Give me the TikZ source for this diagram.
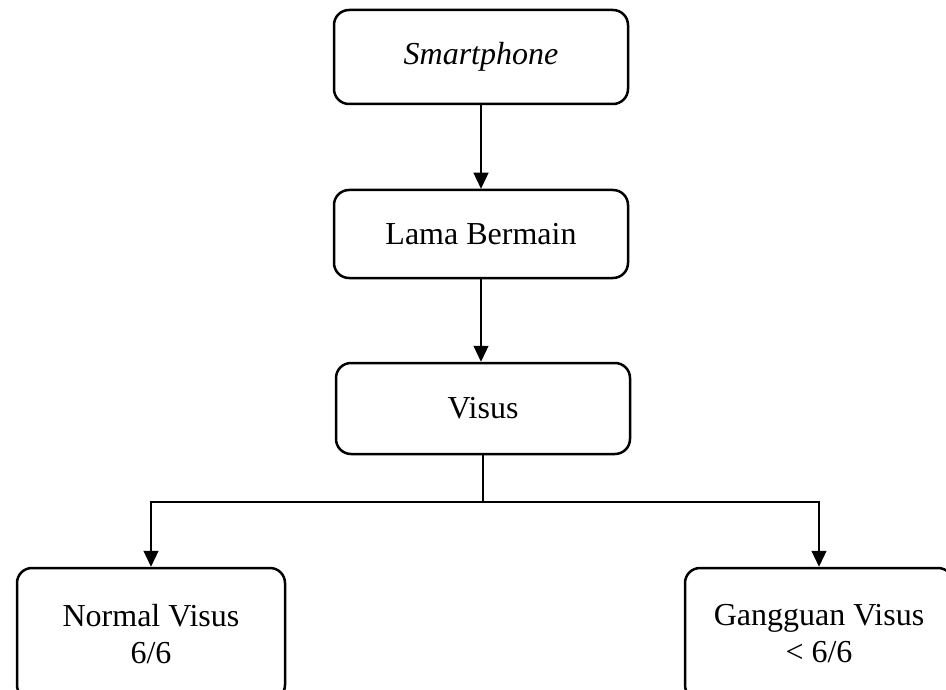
\documentclass[tikz,border=0pt]{standalone}
\usepackage{fontspec}
\setmainfont{Liberation Serif}
\usetikzlibrary{arrows.meta}
\begin{document}
\begin{tikzpicture}[x=1pt,y=-1pt,
  box/.style={draw=black,line width=2.5pt,rounded corners=15pt,fill=white,
    align=center,inner sep=0pt,font=\fontsize{32}{37}\selectfont},
  arr/.style={line width=1.2pt,-{Triangle[length=16pt,width=15pt]}},
  ln/.style={line width=1.2pt}]
\useasboundingbox (0,0) rectangle (946,690);
\clip (0,0) rectangle (946,690);
\fill[white] (0,0) rectangle (946,690);
\node[box,minimum width=294pt,minimum height=94pt] (sp) at (481,57) {\itshape Smartphone};
\node[box,minimum width=294pt,minimum height=88pt] (lb) at (481,234) {Lama Bermain};
\node[box,minimum width=294pt,minimum height=91pt] (vs) at (483,408.5) {Visus};
\node[box,minimum width=268pt,minimum height=132pt] (nv) at (151,634) {Normal Visus\\6/6};
\node[box,minimum width=268pt,minimum height=132pt] (gv) at (819,634) {Gangguan Visus\\\textless{} 6/6};
\coordinate (j) at (483,502);
\draw[arr] (sp.south) -- (lb.north);
\draw[arr] (lb.south) -- (lb.south |- vs.north);
\draw[ln] (vs.south) -- (j);
\draw[arr] (j) -| (nv.north);
\draw[arr] (j) -| (gv.north);
\end{tikzpicture}
\end{document}
